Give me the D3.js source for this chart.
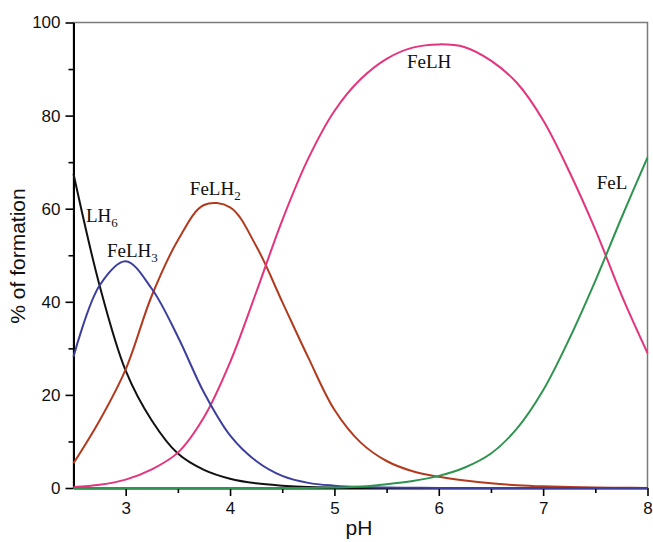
<!DOCTYPE html>
<html>
<head>
<meta charset="utf-8">
<script src="https://cdn.jsdelivr.net/npm/d3@7"></script>
<style>
  html, body { margin: 0; padding: 0; background: #ffffff; }
  svg { display: block; }
</style>
</head>
<body>
<svg id="chart" width="653" height="542"></svg>
<script>
// ---- data ----
const pH = [2.5, 2.75, 3.0, 3.25, 3.5, 3.75, 4.0, 4.25, 4.5, 4.75, 5.0, 5.25, 5.5, 5.75, 6.0, 6.25, 6.5, 6.75, 7.0, 7.25, 7.5, 7.75, 8.0];
const LH6   = [67.5, 43.5, 25.2, 14.5, 7.4, 3.9, 2.0, 1.0, 0.5, 0.2, 0.1, 0.05, 0, 0, 0, 0, 0, 0, 0, 0, 0, 0, 0];
const FeLH3 = [28.2, 43.5, 48.7, 42.8, 32.5, 20.5, 11.3, 5.8, 2.6, 1.1, 0.5, 0.2, 0.1, 0.05, 0, 0, 0, 0, 0, 0, 0, 0, 0];
const FeLH2 = [5.3, 14.5, 25.5, 41.3, 53.2, 60.8, 60.3, 52.0, 40.0, 28.0, 16.8, 9.8, 5.8, 3.6, 2.4, 1.6, 1.0, 0.6, 0.35, 0.2, 0.1, 0.05, 0];
const FeLH  = [0.2, 0.7, 1.8, 4.0, 7.6, 15.2, 27.0, 42.0, 57.5, 70.8, 81.0, 87.8, 92.2, 94.6, 95.3, 94.7, 91.8, 87.0, 79.0, 68.0, 55.5, 41.5, 29.0];
const FeL   = [0, 0, 0, 0, 0, 0, 0, 0, 0, 0, 0.1, 0.3, 0.8, 1.5, 2.6, 4.4, 7.4, 12.8, 21.0, 32.0, 44.5, 58.0, 71.0];

const seriesNames = ["LH6", "FeLH2", "FeLH", "FeLH3", "FeL"];
const seriesValues = [LH6, FeLH2, FeLH, FeLH3, FeL];
const seriesColors = ["#111111", "#b23a1e", "#e4347c", "#3d3f9e", "#2f9450"];

const xMajorTicks = [3, 4, 5, 6, 7, 8];
const xMinorTicks = [3.5, 4.5, 5.5, 6.5, 7.5];
const yMajorTicks = [0, 20, 40, 60, 80, 100];
const yMinorTicks = [10, 30, 50, 70, 90];

const xTitle = "pH";
const yTitle = "% of formation";

// curve labels: main text, subscript, position in data units (pH, %)
const labelMain = ["LH", "FeLH", "FeLH", "FeLH", "FeL"];
const labelSub  = ["6", "3", "2", "", ""];
const labelX    = [2.62, 2.82, 3.615, 5.695, 7.514];
const labelY    = [57.2, 49.6, 62.9, 90.2, 64.2];

// ---- layout ----
const svg = d3.select("#chart");
const mLeft = 73.5, mRight = 647.5, mTop = 22.5, mBottom = 488;

const x = d3.scaleLinear().domain([2.5, 8]).range([mLeft, mRight]);
const y = d3.scaleLinear().domain([0, 100]).range([mBottom, mTop]);

// frame (top/right thin grey)
svg.append("rect")
  .attr("x", mLeft).attr("y", mTop)
  .attr("width", mRight - mLeft).attr("height", mBottom - mTop)
  .attr("fill", "none").attr("stroke", "#7a7a7a").attr("stroke-width", 1.5);

const tickFont = "'Liberation Sans', Arial, sans-serif";

// x axis
const gx = svg.append("g").attr("transform", `translate(0,${mBottom})`);
gx.call(d3.axisBottom(x).tickValues(xMajorTicks).tickSize(8).tickSizeOuter(0).tickPadding(6).tickFormat(d3.format("d")));
const gxm = svg.append("g").attr("transform", `translate(0,${mBottom})`);
gxm.call(d3.axisBottom(x).tickValues(xMinorTicks).tickSize(5).tickSizeOuter(0).tickFormat(""));
gxm.select(".domain").remove();

// y axis
const gy = svg.append("g").attr("transform", `translate(${mLeft},0)`);
gy.call(d3.axisLeft(y).tickValues(yMajorTicks).tickSize(8).tickSizeOuter(0).tickPadding(5).tickFormat(d3.format("d")));
const gym = svg.append("g").attr("transform", `translate(${mLeft},0)`);
gym.call(d3.axisLeft(y).tickValues(yMinorTicks).tickSize(5).tickSizeOuter(0).tickFormat(""));
gym.select(".domain").remove();

svg.selectAll(".domain").attr("stroke", "#000").attr("stroke-width", 2);
svg.selectAll(".tick line").attr("stroke", "#000").attr("stroke-width", 1.6);
svg.selectAll(".tick text")
  .attr("font-family", tickFont).attr("font-size", 17).attr("fill", "#111");

// axis titles
svg.append("text")
  .attr("x", 359).attr("y", 535)
  .attr("text-anchor", "middle")
  .attr("font-family", tickFont).attr("font-size", 21).attr("fill", "#111")
  .text(xTitle);

svg.append("text")
  .attr("transform", "translate(25,256) rotate(-90)")
  .attr("text-anchor", "middle")
  .attr("font-family", tickFont).attr("font-size", 21).attr("fill", "#111")
  .text(yTitle);

// curves
const line = d3.line()
  .x((d, i) => x(pH[i]))
  .y(d => y(d))
  .curve(d3.curveCatmullRom.alpha(0.5));

svg.append("g").selectAll("path")
  .data(seriesValues)
  .join("path")
  .attr("d", d => line(d))
  .attr("fill", "none")
  .attr("stroke", (d, i) => seriesColors[i])
  .attr("stroke-width", 2)
  .attr("stroke-linejoin", "round");

// curve labels
const lab = svg.append("g")
  .attr("font-family", "'Liberation Serif', 'Times New Roman', serif")
  .attr("font-size", 19).attr("fill", "#111");
labelMain.forEach((t, i) => {
  const tx = lab.append("text").attr("x", x(labelX[i])).attr("y", y(labelY[i]));
  tx.append("tspan").text(t);
  if (labelSub[i]) {
    tx.append("tspan").attr("font-size", 13).attr("dy", 5).text(labelSub[i]);
  }
});
</script>
</body>
</html>
